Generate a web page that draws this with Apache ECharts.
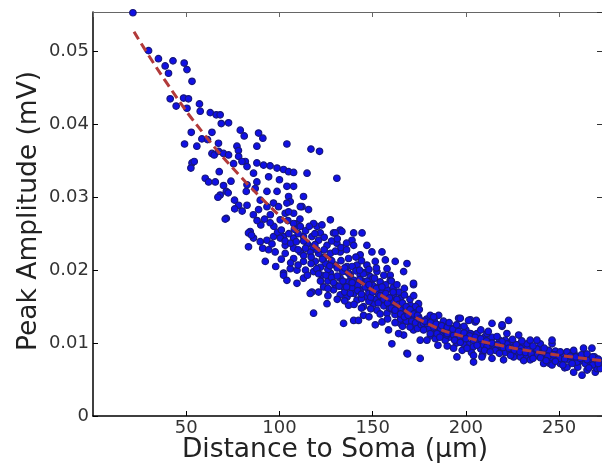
<!DOCTYPE html>
<html>
<head>
<meta charset="utf-8">
<script src="https://cdn.jsdelivr.net/npm/echarts@6/dist/echarts.min.js"></script>
<style>html,body{margin:0;padding:0;background:#fff;}#c{width:602px;height:466px;}</style>
</head>
<body>
<div id="c"></div>
<script>
// Proximal dendrite samples (distance µm, amplitude mV)
var proxX = [21.4,29.8,35.1,38.7,42.9,40.5,48.9,50.4,53.1,41.4,44.6,48.6,51.2,50.4,57.1,57.5,62.9,66.1,68.2,68.8,72.7,52.7,49.1,55.7,58.4,61.4,63.8,53.1,54.3,52.5,63.8,65.0,67.3,70.0,72.7,67.3,79.0,81.1,88.8,91.1,87.9,77.2,78.0,60.2,62.0,65.6,67.7,71.5,72.5,68.2,67.0,75.9,78.1,71.5,82.6,82.2,82.6,75.4,78.1,81.7,82.6,86.1,87.9,87.0,89.7,93.3,88.8,93.3,96.8,98.7,79.9,87.9,91.5,95.0,98.7,70.9,84.3,83.4,86.1,89.7,83.4,85.0,91.0,94.2,92.4,93.3,96.0,96.8,94.2,97,99,95,90,92,88,86,80,76,74,70];
var proxY = [0.0553,0.0501,0.0490,0.0480,0.0487,0.0470,0.0484,0.0475,0.0459,0.0435,0.0425,0.0436,0.0435,0.0422,0.0428,0.0418,0.0416,0.0413,0.0413,0.0401,0.0402,0.0389,0.0373,0.0370,0.0380,0.0379,0.0389,0.0347,0.0349,0.0340,0.0360,0.0358,0.0363,0.0360,0.0358,0.0374,0.0392,0.0384,0.0388,0.0381,0.0370,0.0370,0.0364,0.0326,0.0321,0.0321,0.0335,0.0308,0.0306,0.0303,0.0300,0.0296,0.0289,0.0271,0.0289,0.0308,0.0317,0.0346,0.0356,0.0349,0.0342,0.0333,0.0321,0.0312,0.0296,0.0308,0.0283,0.0287,0.0292,0.0308,0.0349,0.0347,0.0344,0.0343,0.0340,0.0270,0.0253,0.0232,0.0244,0.0239,0.0251,0.0248,0.0230,0.0228,0.0212,0.0241,0.0236,0.0246,0.0328,0.0260,0.0252,0.0265,0.0262,0.0270,0.0268,0.0276,0.0281,0.0284,0.0322,0.0316];

// Middle dendrite samples
var midX = [100.0,102.2,104.9,107.6,104.0,107.6,104.9,112.9,114.8,112.1,115.6,105.8,103.1,107.6,99.5,100.4,104.5,109.4,120.1,127.3,121.9,129.0,132.6,139.8,144.3,104.0,116.9,121.5,130.8,104.0,104.9,111.2,95.1,107.6,111.2,118.3,122.8,133.5,129.9,102.2,107.6,112.9,117.4,121.0,125.5,130.8,138.9,139.8,146.9,149.6,155.0,97.7,103.1,107.6,111.2,116.5,121.0,127.3,132.6,137.1,143.3,107.6,112.9,119.2,124.6,129.9,136.2,141.6,146.9,151.4,156.8,157.7,162.1,168.4,166.6,102.2,105.8,109.4,112.9,118.3,122.8,127.3,132.6,138.0,143.3,148.7,152.3,159.4,159.4,109.4,117.4,123.7,129.0,134.4,138.9,143.3,147.8,153.2,157.7,161.2,164.8,171.9,170.2,132.6,136.2,141.6,146.9,150.5,155.8,161.2,125.5,116.5,139.8,142.4,151.4,155.0,158.5,164.8,161.2,166.6,171.9,174.6,171.9,166.6,163.9,160.3,168.4,137.1,145.1,152.3,157.7,118.3,145.1,134.4,103.1,100.4,102.2,171.9,174.6,168.7,120,124,128,131,134,137,140,142,145,148,150,153,155,158,160,163,165,168,170,173,126,130,135,140,144,148,152,156,159,162,165,168,146,150,154,157,161,164,167,170,173,175,128,133,136,141,144,148,115,113,117,122,126,110,114,118];
var midY = [0.0324,0.0338,0.0335,0.0334,0.0315,0.0315,0.0301,0.0301,0.0333,0.0287,0.0283,0.0294,0.0278,0.0278,0.0287,0.0269,0.0268,0.0264,0.0260,0.0269,0.0251,0.0251,0.0255,0.0251,0.0251,0.0373,0.0366,0.0363,0.0326,0.0292,0.0280,0.0287,0.0276,0.0264,0.0260,0.0264,0.0262,0.0253,0.0251,0.0246,0.0244,0.0246,0.0246,0.0241,0.0234,0.0237,0.0241,0.0234,0.0234,0.0225,0.0225,0.0225,0.0223,0.0230,0.0225,0.0225,0.0223,0.0223,0.0225,0.0216,0.0221,0.0216,0.0212,0.0212,0.0209,0.0207,0.0205,0.0207,0.0207,0.0212,0.0214,0.0202,0.0212,0.0209,0.0198,0.0196,0.0202,0.0200,0.0189,0.0198,0.0193,0.0196,0.0189,0.0193,0.0193,0.0191,0.0198,0.0193,0.0186,0.0182,0.0170,0.0177,0.0173,0.0177,0.0175,0.0173,0.0173,0.0177,0.0173,0.0166,0.0161,0.0180,0.0152,0.0166,0.0163,0.0159,0.0163,0.0154,0.0159,0.0154,0.0154,0.0168,0.0131,0.0131,0.0125,0.0129,0.0118,0.0127,0.0145,0.0141,0.0134,0.0136,0.0118,0.0111,0.0113,0.0099,0.0086,0.0152,0.0150,0.0145,0.0141,0.0141,0.0138,0.0127,0.0234,0.0244,0.0193,0.0182,0.0154,0.0085,0.0228,0.0218,0.0213,0.0203,0.0198,0.0184,0.0186,0.0180,0.0184,0.0168,0.0179,0.0168,0.0169,0.0163,0.0158,0.0150,0.0146,0.0145,0.0140,0.0143,0.0185,0.0180,0.0170,0.0168,0.0161,0.0157,0.0160,0.0151,0.0148,0.0139,0.0133,0.0130,0.0197,0.0188,0.0184,0.0180,0.0176,0.0170,0.0166,0.0160,0.0150,0.0146,0.0240,0.0231,0.0228,0.0218,0.0213,0.0201,0.0236,0.0220,0.0209,0.0204,0.0201,0.0250,0.0254,0.0232];

// Dense core samples along the fit
var coreX = [101,103,105,106,108,109,110,111,113,114,116,117,119,119,106,110,114,115,120,104,98,101,121,122,123,124,125,126,127,128,129,130,131,132,133,134,135,136,137,138,139,139,121,126,131,135,140,124,131,136,141,142,143,144,145,146,147,148,149,150,151,152,153,154,155,156,157,158,159,160,161,162,163,164,165,166,167,168,169,170,171,172,173,174,175,149,154,158,162,166,170,174,144,148,143,152,156,160,163,167,172,176,178,179,180,181,183,184,185,187,188,189,191,192,194,195,196,197,199,200,201,203,204,206,207,208,210,211,213,214,215,217,218,219,221,222,224,225,227,228,230,231,233,234,236,237,239,240,242,243,245,246,248,249,251,252,254,255,257,258,260,261,263,264,266,267,269,270,272,185,190,198,203,209,232,245,253,260,265];
var coreY = [0.0255,0.0240,0.0250,0.0237,0.0256,0.0239,0.0228,0.0270,0.0240,0.0230,0.0260,0.0218,0.0235,0.0250,0.0210,0.0207,0.0200,0.0193,0.0202,0.0186,0.0205,0.0215,0.0195,0.0185,0.0215,0.0228,0.0193,0.0175,0.0206,0.0190,0.0183,0.0226,0.0192,0.0178,0.0213,0.0185,0.0203,0.0177,0.0196,0.0168,0.0205,0.0183,0.0170,0.0165,0.0160,0.0158,0.0153,0.0245,0.0243,0.0237,0.0199,0.0172,0.0187,0.0167,0.0195,0.0177,0.0185,0.0180,0.0163,0.0170,0.0189,0.0175,0.0155,0.0165,0.0177,0.0160,0.0168,0.0155,0.0162,0.0148,0.0170,0.0145,0.0160,0.0153,0.0140,0.0155,0.0136,0.0150,0.0138,0.0146,0.0130,0.0140,0.0128,0.0138,0.0133,0.0147,0.0140,0.0133,0.0128,0.0123,0.0122,0.0120,0.0148,0.0136,0.0200,0.0203,0.0193,0.0185,0.0180,0.0175,0.0165,0.0125,0.0120,0.0133,0.0120,0.0110,0.0131,0.0117,0.0125,0.0111,0.0130,0.0116,0.0108,0.0120,0.0113,0.0100,0.0122,0.0108,0.0105,0.0118,0.0099,0.0112,0.0095,0.0113,0.0102,0.0092,0.0108,0.0098,0.0094,0.0108,0.0097,0.0091,0.0104,0.0095,0.0087,0.0096,0.0101,0.0093,0.0086,0.0095,0.0089,0.0097,0.0092,0.0084,0.0090,0.0086,0.0093,0.0087,0.0082,0.0090,0.0086,0.0079,0.0089,0.0084,0.0080,0.0085,0.0079,0.0084,0.0077,0.0086,0.0079,0.0075,0.0082,0.0072,0.0079,0.0074,0.0081,0.0076,0.0071,0.0097,0.0096,0.0090,0.0087,0.0084,0.0080,0.0072,0.0066,0.0067,0.0063];

// Distal dendrite samples
var distX = [180.9,185.4,177.3,182.7,188.0,175.5,179.1,183.6,188.9,193.4,196.1,202.4,205.0,175.5,193.4,195.2,204.1,208.6,198.8,204.1,209.5,214.0,219.4,211.3,216.7,222.0,228.3,221.1,215.8,214.0,220.2,223.8,229.2,222.0,232.8,234.5,239.9,246.2,244.4,238.1,234.5,241.7,246.2,249.0,250.6,254.2,257.8,263.1,267.6,255.1,259.6,261.3,265.0,262.3,257.8,269.4,270.3,272.0,254.2,250.6,222.9,238.1,246.2,219.4,202.4,186.3,189.8,184.5,180.9,200.6,211.3,229.2,225.6,204.1,182.7,179.1,177.3,197.0,201.4,205.6,219.4,178,181,184,187,190,193,196,199,202,205,208,211,214,217,220,223,226,229,232,235,238,241,244,247,250,253,256,259,262,265,268,271,186,190,194,197,200,206,210,213,218,224,227,231,236,240,243,248,252,257,191,195,199,208,212,225,230,236,242,268,271,266];
var distY = [0.0138,0.0138,0.0127,0.0122,0.0118,0.0104,0.0104,0.0106,0.0104,0.0111,0.0134,0.0132,0.0129,0.0079,0.0093,0.0081,0.0083,0.0081,0.0099,0.0104,0.0097,0.0127,0.0123,0.0113,0.0109,0.0113,0.0111,0.0104,0.0090,0.0079,0.0077,0.0088,0.0093,0.0099,0.0099,0.0104,0.0099,0.0099,0.0090,0.0083,0.0077,0.0072,0.0070,0.0081,0.0088,0.0088,0.0090,0.0093,0.0093,0.0077,0.0074,0.0079,0.0077,0.0056,0.0060,0.0060,0.0065,0.0065,0.0067,0.0072,0.0131,0.0104,0.0104,0.0102,0.0113,0.0120,0.0111,0.0113,0.0113,0.0093,0.0095,0.0081,0.0081,0.0074,0.0136,0.0127,0.0118,0.0134,0.0131,0.0131,0.0125,0.0130,0.0128,0.0126,0.0124,0.0122,0.0119,0.0116,0.0114,0.0110,0.0108,0.0106,0.0103,0.0100,0.0098,0.0094,0.0093,0.0090,0.0088,0.0087,0.0085,0.0092,0.0086,0.0082,0.0084,0.0079,0.0078,0.0082,0.0081,0.0084,0.0085,0.0081,0.0078,0.0108,0.0113,0.0104,0.0101,0.0106,0.0097,0.0090,0.0088,0.0086,0.0083,0.0098,0.0076,0.0079,0.0080,0.0076,0.0075,0.0070,0.0072,0.0128,0.0125,0.0123,0.0118,0.0116,0.0105,0.0103,0.0096,0.0093,0.0070,0.0072,0.0066];

// Exponential fit curve
var fitX = [22, 40, 60, 80, 93, 100, 120, 140, 160, 180, 200, 220, 240, 260, 273];
var fitY = [0.0527, 0.0455, 0.0385, 0.0326, 0.0292, 0.0275, 0.0230, 0.0190, 0.0157, 0.0126, 0.0108, 0.0096, 0.0087, 0.0080, 0.0076];

var yTicks = [0, 0.01, 0.02, 0.03, 0.04, 0.05];
var xTicks = [50, 100, 150, 200, 250];

function pairs(xs, ys) { var o = []; for (var i = 0; i < xs.length; i++) o.push([xs[i], ys[i]]); return o; }
var pts = pairs(proxX, proxY).concat(pairs(midX, midY), pairs(coreX, coreY), pairs(distX, distY));
var fit = pairs(fitX, fitY);

var chart = echarts.init(document.getElementById('c'), null, {renderer: 'canvas'});
var FONT = 'DejaVu Sans';
chart.setOption({
  animation: false,
  backgroundColor: '#ffffff',
  grid: {left: 93, top: 12, width: 509, height: 404, outerBoundsMode: 'none', containLabel: false},
  xAxis: [{
    type: 'value', min: 0, max: 273, interval: 50, position: 'bottom',
    name: 'Distance to Soma (µm)', nameLocation: 'middle', nameGap: 21, nameMoveOverlap: false,
    nameTextStyle: {fontFamily: FONT, fontSize: 26.5, color: '#222', padding: [0, 25, 0, 0]},
    axisLine: {onZero: false, lineStyle: {color: '#000', width: 1.5}},
    axisTick: {inside: true, length: 5, lineStyle: {color: '#000'}},
    axisLabel: {fontFamily: FONT, fontSize: 18, color: '#333', margin: 3, showMinLabel: false, showMaxLabel: false,
      formatter: function (v) { return xTicks.indexOf(v) >= 0 ? String(v) : ''; }},
    splitLine: {show: false}
  }, {
    type: 'value', min: 0, max: 273, interval: 50, position: 'top',
    axisLine: {onZero: false, lineStyle: {color: '#666', width: 1.2}},
    axisTick: {inside: true, length: 5, lineStyle: {color: '#666'}},
    axisLabel: {show: false}, splitLine: {show: false}
  }],
  yAxis: [{
    type: 'value', min: 0, max: 0.0554, interval: 0.01, position: 'left',
    name: 'Peak Amplitude (mV)', nameLocation: 'middle', nameGap: 50, nameMoveOverlap: false,
    nameTextStyle: {fontFamily: FONT, fontSize: 26.5, color: '#222', padding: [0, 0, 0, 6]},
    axisLine: {onZero: false, lineStyle: {color: '#000', width: 1.5}},
    axisTick: {inside: true, length: 5, lineStyle: {color: '#000'}},
    axisLabel: {fontFamily: FONT, fontSize: 18, color: '#333', margin: 4, showMaxLabel: false,
      formatter: function (v) { for (var i = 0; i < yTicks.length; i++) if (Math.abs(v - yTicks[i]) < 1e-9) return String(yTicks[i]); return ''; }},
    splitLine: {show: false}
  }, {
    type: 'value', min: 0, max: 0.0554, interval: 0.01, position: 'right',
    axisLine: {onZero: false, lineStyle: {color: '#666', width: 1}},
    axisTick: {inside: true, length: 5, lineStyle: {color: '#333'}},
    axisLabel: {show: false}, splitLine: {show: false}
  }],
  series: [{
    type: 'scatter', data: pts, symbol: 'circle', symbolSize: 6.5,
    itemStyle: {color: '#1010e6', borderColor: '#17177a', borderWidth: 1.2, opacity: 1},
    z: 2
  }, {
    type: 'line', data: fit, smooth: true, showSymbol: false, symbol: 'none',
    lineStyle: {color: '#b23a3a', width: 3, type: [9, 5]},
    z: 3
  }]
});
</script>
</body>
</html>
